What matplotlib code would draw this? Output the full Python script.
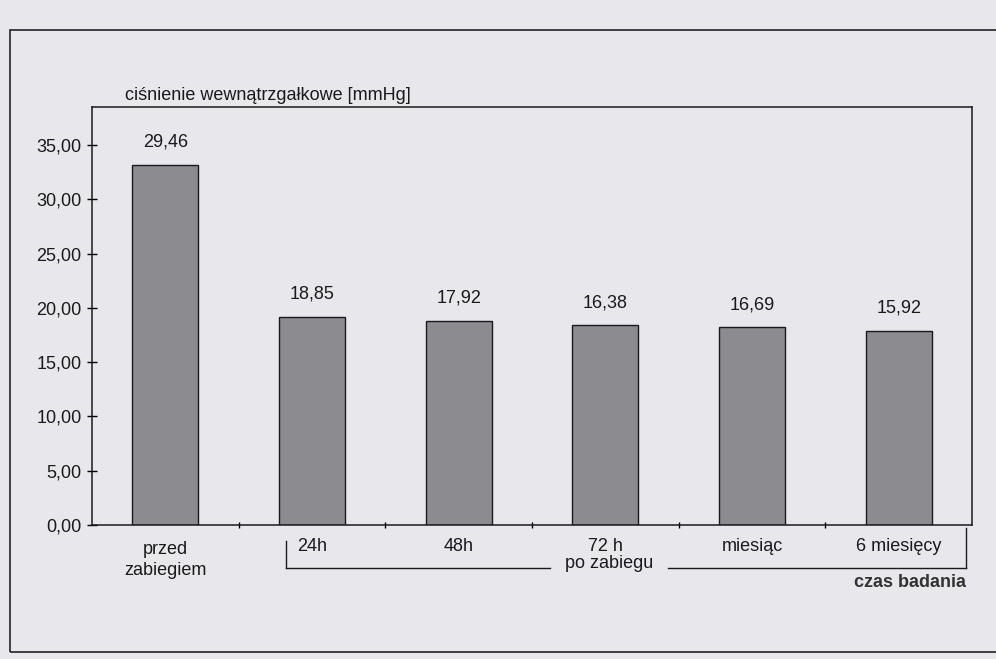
import matplotlib
matplotlib.use("Agg")
import matplotlib.pyplot as plt
from matplotlib.patches import Rectangle
from matplotlib.lines import Line2D

plt.rcParams['font.family'] = ['Liberation Sans', 'DejaVu Sans']

categories = ["przed\nzabiegiem", "24h", "48h", "72 h", "miesiąc", "6 miesięcy"]
bar_heights = [33.2, 19.2, 18.8, 18.4, 18.2, 17.9]
value_labels = ["29,46", "18,85", "17,92", "16,38", "16,69", "15,92"]
yticks = [0, 5, 10, 15, 20, 25, 30, 35]

W, H = 996, 659
bg = "#e8e8ec"
FS = 13
fig = plt.figure(figsize=(W / 100, H / 100), dpi=100, facecolor=bg)

def fx(px):
    return px / W

def fy(py):
    return 1 - py / H

# outer frame
fig.patches.append(Rectangle((fx(10), fy(652)), fx(1000) - fx(10), fy(30) - fy(652),
                             transform=fig.transFigure, fill=False, edgecolor="#222222", lw=1.2))

ax = fig.add_axes([fx(92), fy(525), fx(972) - fx(92), fy(107) - fy(525)])
ax.set_facecolor(bg)
x = list(range(len(categories)))
ax.bar(x, bar_heights, width=0.45, color="#8c8c90", edgecolor="#1a1a1a", linewidth=1.0)
for xi, h, lab in zip(x, bar_heights, value_labels):
    ax.text(xi, h + 1.3, lab, ha="center", va="bottom", fontsize=FS, color="#1a1a1a")

ax.set_xlim(-0.5, len(categories) - 0.5)
ax.set_ylim(0, 38.5)
ax.set_yticks(yticks)
ax.set_yticklabels([f"{v:.2f}".replace(".", ",") for v in yticks], fontsize=FS, color="#1a1a1a")
ax.tick_params(axis="y", direction="inout", length=7, width=1, pad=4)
ax.set_xticks([i + 0.5 for i in range(len(categories) - 1)])
ax.set_xticklabels([])
ax.tick_params(axis="x", direction="inout", length=5, width=1)
for s in ax.spines.values():
    s.set_color("#1a1a1a")
    s.set_linewidth(1.1)

# category labels
for i, c in enumerate(categories):
    yoff = -0.038 if i == 0 else -0.03
    ax.text(i, yoff, c, transform=ax.get_xaxis_transform(), ha="center", va="top",
            fontsize=FS, color="#1a1a1a", linespacing=1.3)

# y axis title
fig.text(fx(125), fy(95), "ciśnienie wewnątrzgałkowe [mmHg]", ha="left", va="center",
         fontsize=FS, color="#1a1a1a")

# bracket for "po zabiegu"
lc = "#1a1a1a"
fig.add_artist(Line2D([fx(286), fx(286)], [fy(541), fy(568)], transform=fig.transFigure, color=lc, lw=1))
fig.add_artist(Line2D([fx(286), fx(550)], [fy(568), fy(568)], transform=fig.transFigure, color=lc, lw=1))
fig.add_artist(Line2D([fx(668), fx(966)], [fy(568), fy(568)], transform=fig.transFigure, color=lc, lw=1))
fig.add_artist(Line2D([fx(966), fx(966)], [fy(528), fy(568)], transform=fig.transFigure, color=lc, lw=1))
fig.text(fx(609), fy(564), "po zabiegu", ha="center", va="center", fontsize=FS, color="#1a1a1a")
fig.text(fx(966), fy(574), "czas badania", ha="right", va="top", fontsize=FS,
         fontweight="bold", color="#333333")

fig.savefig("out.png", dpi=100, facecolor=bg)
